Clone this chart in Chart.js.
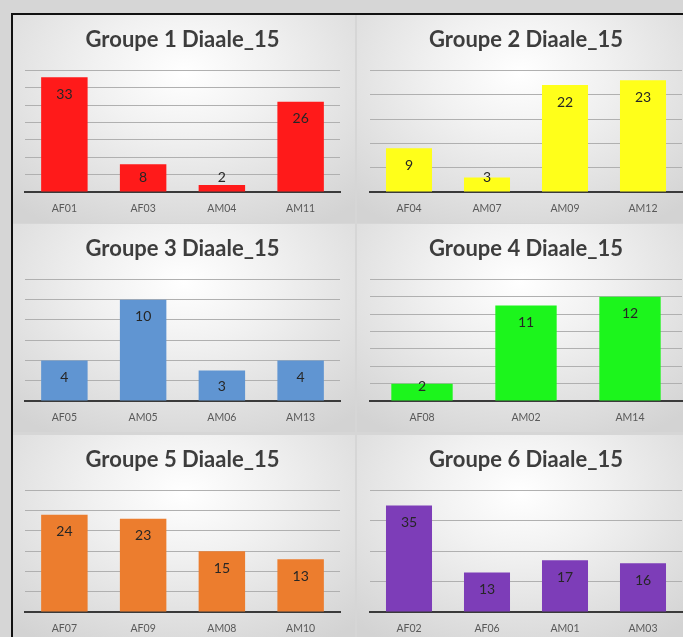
<!DOCTYPE html>
<html>
<head>
<meta charset="utf-8">
<script src="https://cdn.jsdelivr.net/npm/chart.js@4.4.0/dist/chart.umd.min.js"></script>
<style>
  html, body { margin: 0; padding: 0; width: 683px; height: 637px; overflow: hidden; background: #d6d6d6; }
  #frame { position: absolute; left: 11px; top: 13px; width: 700px; height: 700px;
           border-top: 2px solid #111; border-left: 2px solid #111; }
  .panel { position: absolute; overflow: hidden;
           background: radial-gradient(ellipse 75% 85% at 50% 28%, #ffffff 0%, #f1f1f1 35%, #d3d3d3 100%); }
  canvas { display: block; }
</style>
</head>
<body>
<div id="frame"></div>
<div class="panel" style="left:13px;top:15px;width:342px;height:208px"><canvas id="c1" width="342" height="208"></canvas></div>
<div class="panel" style="left:357px;top:15px;width:326px;height:208px"><canvas id="c2" width="326" height="208"></canvas></div>
<div class="panel" style="left:13px;top:224px;width:342px;height:208px"><canvas id="c3" width="342" height="208"></canvas></div>
<div class="panel" style="left:357px;top:224px;width:326px;height:208px"><canvas id="c4" width="326" height="208"></canvas></div>
<div class="panel" style="left:13px;top:435px;width:342px;height:208px"><canvas id="c5" width="342" height="208"></canvas></div>
<div class="panel" style="left:357px;top:435px;width:326px;height:208px"><canvas id="c6" width="326" height="208"></canvas></div>
<script>
// data
const titles = ['Groupe 1 Diaale_15', 'Groupe 2 Diaale_15', 'Groupe 3 Diaale_15',
                'Groupe 4 Diaale_15', 'Groupe 5 Diaale_15', 'Groupe 6 Diaale_15'];

const labels1 = ['AF01', 'AF03', 'AM04', 'AM11'];
const values1 = [33, 8, 2, 26];
const labels2 = ['AF04', 'AM07', 'AM09', 'AM12'];
const values2 = [9, 3, 22, 23];
const labels3 = ['AF05', 'AM05', 'AM06', 'AM13'];
const values3 = [4, 10, 3, 4];
const labels4 = ['AF08', 'AM02', 'AM14'];
const values4 = [2, 11, 12];
const labels5 = ['AF07', 'AF09', 'AM08', 'AM10'];
const values5 = [24, 23, 15, 13];
const labels6 = ['AF02', 'AF06', 'AM01', 'AM03'];
const values6 = [35, 13, 17, 16];

const yMax = [35, 25, 12, 14, 30, 40];
const yStep = [5, 5, 2, 2, 5, 10];

const barColors = ['#ff1a1a', '#ffff1a', '#6095d2', '#1cf51c', '#ec7d2e', '#7d3db8'];

// value labels inside the top of each bar, pushed up for short bars
const valueLabels = {
  id: 'valueLabels',
  afterDatasetsDraw(chart) {
    const ctx = chart.ctx;
    ctx.save();
    ctx.font = '14px Lato, "DejaVu Sans", sans-serif';
    ctx.fillStyle = '#262626';
    ctx.textAlign = 'center';
    ctx.textBaseline = 'middle';
    chart.getDatasetMeta(0).data.forEach((bar, i) => {
      const y = Math.min(bar.y + 17, bar.base - 14);
      ctx.fillText(chart.data.datasets[0].data[i], bar.x, y);
    });
    ctx.restore();
  }
};

function drawGroup(id, idx, labels, values, left) {
  const ctx = document.getElementById(id).getContext('2d');
  new Chart(ctx, {
    type: 'bar',
    data: {
      labels: labels,
      datasets: [{
        data: values,
        backgroundColor: barColors[idx],
        borderWidth: 0,
        barPercentage: 1,
        categoryPercentage: 0.59
      }]
    },
    options: {
      responsive: false,
      animation: false,
      layout: { padding: { left: left ? 12 : 13, right: left ? 15 : 1, top: 0, bottom: 1 } },
      plugins: {
        legend: { display: false },
        tooltip: { enabled: false },
        title: {
          display: true,
          text: titles[idx],
          color: '#3d3d3d',
          font: { family: 'Lato, "DejaVu Sans", sans-serif', size: 22, weight: 'bold', lineHeight: 1.2 },
          padding: { top: 12, bottom: 17 }
        }
      },
      scales: {
        x: {
          grid: { display: false, drawTicks: false },
          border: { display: true, color: '#3a3a3a', width: 2 },
          ticks: { color: '#595959', padding: 10, font: { family: 'Lato, "DejaVu Sans", sans-serif', size: 10.5 } },
          afterFit: (scale) => { scale.height = 30; }
        },
        y: {
          min: 0,
          max: yMax[idx],
          ticks: { display: false, stepSize: yStep[idx] },
          grid: { color: '#b0b0b0', lineWidth: 1, drawTicks: false },
          border: { display: false }
        }
      }
    },
    plugins: [valueLabels]
  });
}

drawGroup('c1', 0, labels1, values1, true);
drawGroup('c2', 1, labels2, values2, false);
drawGroup('c3', 2, labels3, values3, true);
drawGroup('c4', 3, labels4, values4, false);
drawGroup('c5', 4, labels5, values5, true);
drawGroup('c6', 5, labels6, values6, false);
</script>
</body>
</html>
